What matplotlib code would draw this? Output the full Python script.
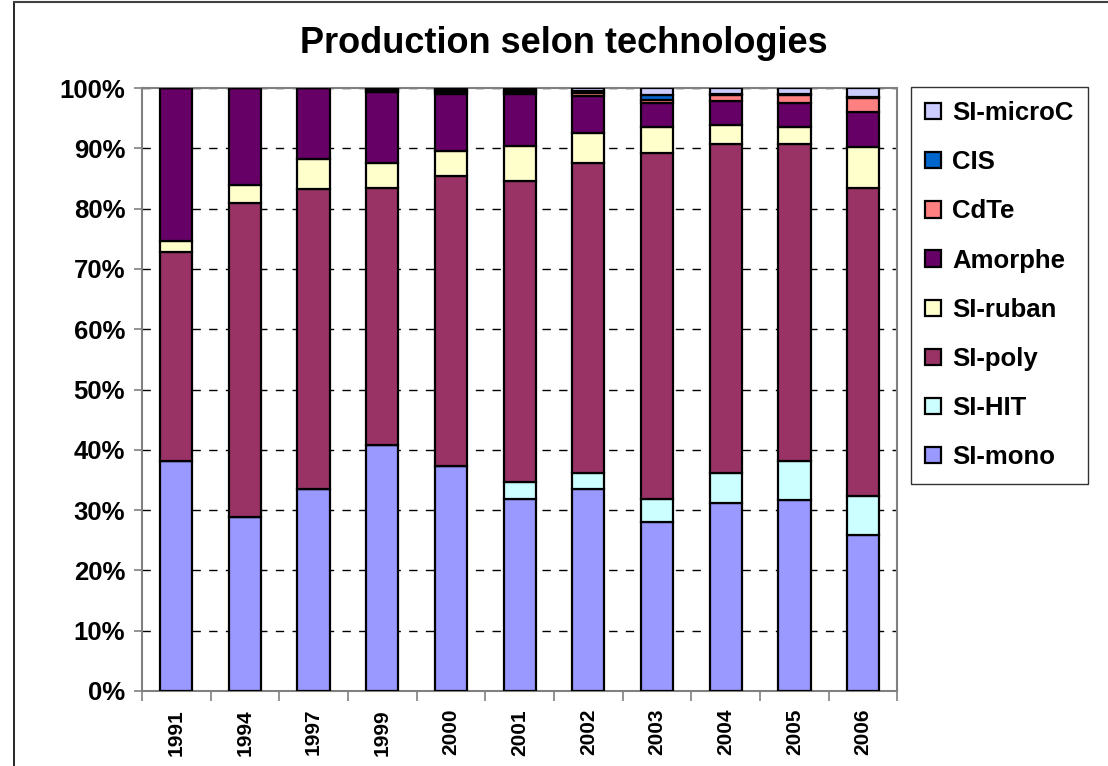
import matplotlib.pyplot as plt
from matplotlib.lines import Line2D
import numpy as np

years = ["1991", "1994", "1997", "1999", "2000", "2001", "2002", "2003", "2004", "2005", "2006"]

# share of production (%)
si_mono = [38.1, 28.9, 33.5, 40.8, 37.3, 31.9, 33.5, 28.1, 31.1, 31.6, 25.8]
si_hit = [0, 0, 0, 0, 0, 2.8, 2.7, 3.8, 5.1, 6.5, 6.5]
si_poly = [34.7, 52.0, 49.7, 42.7, 48.1, 49.9, 51.4, 57.4, 54.6, 52.7, 51.1]
si_ruban = [1.9, 3.0, 5.0, 4.0, 4.2, 5.8, 5.0, 4.2, 3.1, 2.7, 6.9]
amorphe = [25.3, 16.1, 11.8, 11.9, 9.45, 8.65, 6.1, 4.0, 3.9, 4.0, 5.8]
cdte = [0, 0, 0, 0.2, 0.3, 0.3, 0.45, 0.6, 1.0, 1.3, 2.2]
cis = [0, 0, 0, 0.2, 0.3, 0.3, 0.4, 0.7, 0.2, 0.2, 0.3]
si_microc = [0, 0, 0, 0.2, 0.35, 0.35, 0.45, 1.2, 1.0, 1.0, 1.4]

series = [
    ("SI-mono", si_mono, "#9999FF"),
    ("SI-HIT", si_hit, "#CCFFFF"),
    ("SI-poly", si_poly, "#993366"),
    ("SI-ruban", si_ruban, "#FFFFCC"),
    ("Amorphe", amorphe, "#660066"),
    ("CdTe", cdte, "#FF8080"),
    ("CIS", cis, "#0066CC"),
    ("SI-microC", si_microc, "#CCCCFF"),
]

plt.rcParams['font.family'] = ['Liberation Sans', 'DejaVu Sans']

fig = plt.figure(figsize=(11.08, 7.66), dpi=100)
ax = fig.add_axes([0.128, 0.098, 0.682, 0.787])

x = np.arange(len(years))
bottom = np.zeros(len(years))
for name, vals, col in series:
    vals = np.array(vals)
    ax.bar(x, vals, 0.47, bottom=bottom, color=col, edgecolor='black',
           linewidth=1.6, label=name, zorder=3)
    bottom += vals

ax.set_xlim(-0.5, len(years) - 0.5)
ax.set_ylim(0, 100)
ax.set_yticks(np.arange(0, 101, 10))
ax.set_yticklabels([f"{v}%" for v in range(0, 101, 10)], fontsize=18.5, fontweight='bold')
ax.yaxis.grid(True, color='black', linestyle=(0, (6, 6)), linewidth=1)
ax.set_axisbelow(True)

ax.set_xticks(x)
ax.set_xticklabels(years, rotation=90, fontsize=15, fontweight='bold')
ax.set_xticks(np.arange(-0.5, len(years)), minor=True)
ax.tick_params(axis='x', which='major', length=0, pad=13)
ax.tick_params(axis='x', which='minor', length=7, color='#808080', width=1.2)
ax.tick_params(axis='y', length=6, color='#808080', width=1.2, pad=6)
for s in ax.spines.values():
    s.set_color('#808080')
    s.set_linewidth(1.5)

fig.text(564 / 1108, 1 - 53 / 766, "Production selon technologies", fontsize=26,
         fontweight='bold', ha='center', va='baseline')

h, l = ax.get_legend_handles_labels()
leg = fig.legend(h[::-1], l[::-1], loc='upper left', bbox_to_anchor=(911 / 1108, 1 - 87 / 766),
                 prop={'size': 18.5, 'weight': 'bold'}, frameon=True, fancybox=False,
                 edgecolor='black', handlelength=0.6, handleheight=0.6,
                 handletextpad=0.45, labelspacing=0.98, borderpad=0.55, borderaxespad=0)
leg.get_frame().set_linewidth(1)

# chart border (cropped on the right and bottom)
fig.add_artist(Line2D([14 / 1108, 14 / 1108], [0, 1 - 2 / 766], color='black', lw=1.2))
fig.add_artist(Line2D([14 / 1108, 1], [1 - 2 / 766, 1 - 2 / 766], color='#404040', lw=1.5))

fig.savefig("out.png", dpi=100)
